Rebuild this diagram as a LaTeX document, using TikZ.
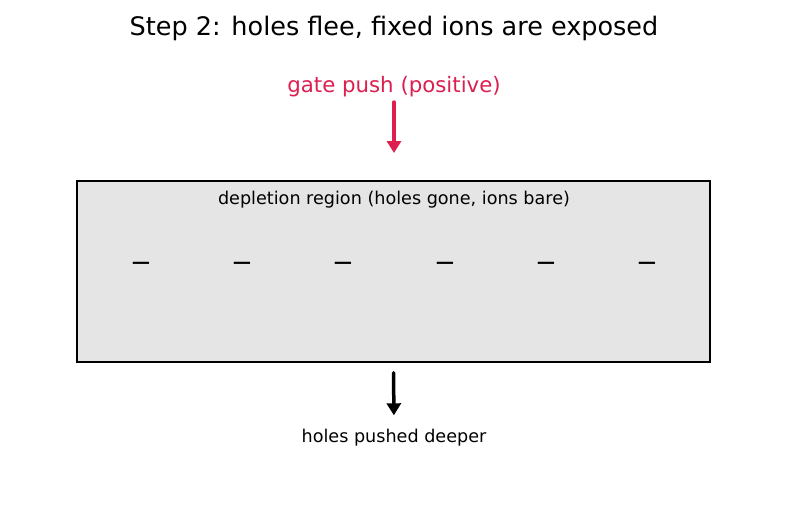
\documentclass[tikz,border=0pt]{standalone}
\usepackage{fontspec}
\setmainfont{DejaVu Sans}
\usetikzlibrary{arrows.meta}
\definecolor{gatered}{HTML}{DC1F4F}
\definecolor{regiongray}{HTML}{E5E5E5}

\begin{document}
\begin{tikzpicture}[
            x=1pt, y=-1pt,
            >={Triangle[length=12pt, width=14pt]},
            label/.style={inner sep=0pt, anchor=center, font=\fontsize{17.6}{20}\selectfont},
            push/.style={->, line width=3.5pt, line cap=round},
            ion/.style={inner sep=0pt, font=\fontsize{26}{30}\selectfont}
        ]
            \useasboundingbox (0,0) rectangle (787,512);

            % Title
            \node[inner sep=0pt, font=\fontsize{25.5}{30}\selectfont] (title) at (394,28) {Step 2: holes flee, fixed ions are exposed};

            % Gate push
            \node[label, text=gatered, font=\fontsize{21.3}{25}\selectfont] (gate) at (394,87) {gate push (positive)};
            \coordinate (pushtop) at (394,102);
            \coordinate (pushend) at (394,153);
            \draw[push, gatered] (pushtop) -- (pushend);

            % Depletion region
            \node[draw, line width=1.5pt, fill=regiongray, minimum width=633pt, minimum height=181pt, inner sep=0pt] (region) at (393.5,271.5) {};
            \node[label] (regionname) at (394,200) {depletion region (holes gone, ions bare)};
            \foreach \x [count=\i] in {141,242,343,445,546,647}
                \node[ion] (ion\i) at (\x,267) {−};

            % Holes pushed deeper
            \node[label] (deeper) at (394,438) {holes pushed deeper};
            \draw[push, shorten <=10pt, shorten >=14pt] (region.south) -- (deeper.north);
        \end{tikzpicture}
\end{document}
